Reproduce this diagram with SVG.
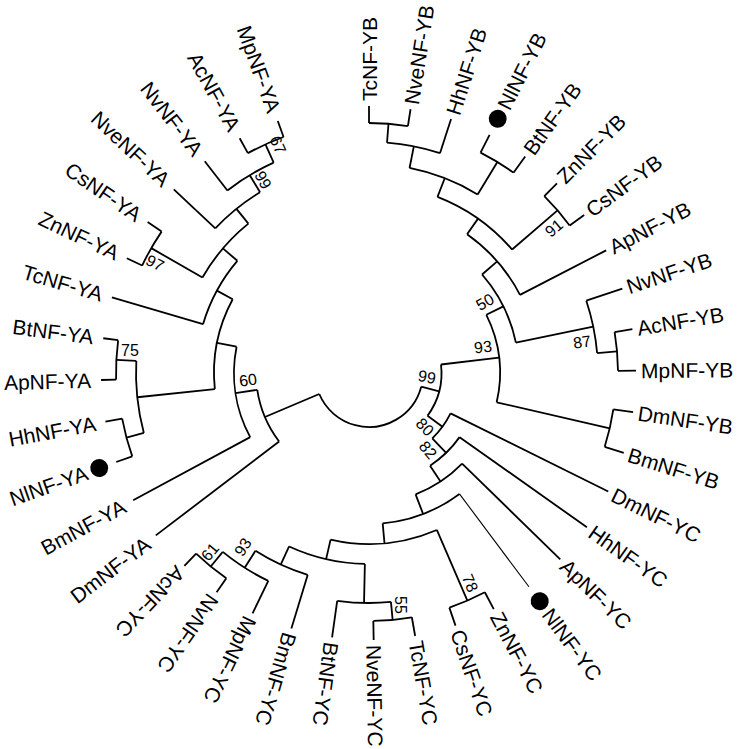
<svg xmlns="http://www.w3.org/2000/svg" width="739" height="749" viewBox="0 0 739 749">
<style>
.b{stroke:#000;stroke-width:1.8;fill:none}
.lf{font-family:"Liberation Sans",Arial,sans-serif;font-size:21px;fill:#000;dominant-baseline:central}
.fl{text-anchor:end}
.bs{font-family:"Liberation Sans",Arial,sans-serif;font-size:16px;fill:#000;text-anchor:middle;dominant-baseline:central}
</style>
<rect width="739" height="749" fill="#fff"/>
<g id="connectors" transform="translate(369,373)" class="b">
<circle r="54" pathLength="360" stroke-dasharray="142.36 400" transform="rotate(14.71)"/>
<circle r="113" pathLength="360" stroke-dasharray="28.74 400" transform="rotate(142.7)"/>
<circle r="135" pathLength="360" stroke-dasharray="39.58 400" transform="rotate(151.65)"/>
<circle r="155" pathLength="360" stroke-dasharray="34.4 400" transform="rotate(174.03)"/>
<circle r="233" pathLength="360" stroke-dasharray="17.9 400" transform="rotate(165.08)"/>
<circle r="251" pathLength="360" stroke-dasharray="8.95 400" transform="rotate(160.6)"/>
<circle r="253" pathLength="360" stroke-dasharray="8.95 400" transform="rotate(178.5)"/>
<circle r="173" pathLength="360" stroke-dasharray="24.05 400" transform="rotate(196.4)"/>
<circle r="192" pathLength="360" stroke-dasharray="21.25 400" transform="rotate(209.83)"/>
<circle r="251" pathLength="360" stroke-dasharray="8.95 400" transform="rotate(205.35)"/>
<circle r="211" pathLength="360" stroke-dasharray="15.66 400" transform="rotate(223.25)"/>
<circle r="231" pathLength="360" stroke-dasharray="13.43 400" transform="rotate(232.2)"/>
<circle r="251" pathLength="360" stroke-dasharray="8.95 400" transform="rotate(241.15)"/>
<circle r="72.5" pathLength="360" stroke-dasharray="42.89 400" transform="rotate(-6.73)"/>
<circle r="131" pathLength="360" stroke-dasharray="39.31 400" transform="rotate(-26.38)"/>
<circle r="150" pathLength="360" stroke-dasharray="29.37 400" transform="rotate(-41.06)"/>
<circle r="170" pathLength="360" stroke-dasharray="27.41 400" transform="rotate(-54.76)"/>
<circle r="189" pathLength="360" stroke-dasharray="27.97 400" transform="rotate(-68.75)"/>
<circle r="209" pathLength="360" stroke-dasharray="20.13 400" transform="rotate(-78.81)"/>
<circle r="231" pathLength="360" stroke-dasharray="13.43 400" transform="rotate(-85.53)"/>
<circle r="250" pathLength="360" stroke-dasharray="8.95 400" transform="rotate(-90)"/>
<circle r="247" pathLength="360" stroke-dasharray="8.95 400" transform="rotate(-63.15)"/>
<circle r="249" pathLength="360" stroke-dasharray="8.95 400" transform="rotate(-45.25)"/>
<circle r="229" pathLength="360" stroke-dasharray="13.42 400" transform="rotate(-18.4)"/>
<circle r="249" pathLength="360" stroke-dasharray="8.95 400" transform="rotate(-9.45)"/>
<circle r="247" pathLength="360" stroke-dasharray="8.95 400" transform="rotate(8.45)"/>
<circle r="91" pathLength="360" stroke-dasharray="19.61 400" transform="rotate(26.35)"/>
<circle r="111" pathLength="360" stroke-dasharray="21.33 400" transform="rotate(35.3)"/>
<circle r="130" pathLength="360" stroke-dasharray="24.75 400" transform="rotate(44.25)"/>
<circle r="151" pathLength="360" stroke-dasharray="31.6 400" transform="rotate(53.2)"/>
<circle r="171" pathLength="360" stroke-dasharray="36.35 400" transform="rotate(66.63)"/>
<circle r="248" pathLength="360" stroke-dasharray="8.95 400" transform="rotate(62.15)"/>
<circle r="191" pathLength="360" stroke-dasharray="23.49 400" transform="rotate(91.24)"/>
<circle r="230" pathLength="360" stroke-dasharray="13.42 400" transform="rotate(84.53)"/>
<circle r="248" pathLength="360" stroke-dasharray="8.95 400" transform="rotate(80.05)"/>
<circle r="211" pathLength="360" stroke-dasharray="15.66 400" transform="rotate(106.9)"/>
<circle r="231" pathLength="360" stroke-dasharray="13.43 400" transform="rotate(115.85)"/>
<circle r="250" pathLength="360" stroke-dasharray="8.95 400" transform="rotate(124.8)"/>
<line x1="54" x2="113" transform="rotate(157.07)"/>
<line x1="54" x2="72.5" transform="rotate(14.71)"/>
<line x1="113" x2="268" transform="rotate(142.7)"/>
<line x1="113" x2="135" transform="rotate(171.44)"/>
<line x1="135" x2="268" transform="rotate(151.65)"/>
<line x1="135" x2="155" transform="rotate(191.23)"/>
<line x1="155" x2="233" transform="rotate(174.03)"/>
<line x1="155" x2="173" transform="rotate(208.43)"/>
<line x1="233" x2="251" transform="rotate(165.08)"/>
<line x1="233" x2="253" transform="rotate(182.98)"/>
<line x1="251" x2="268" transform="rotate(160.6)"/>
<line x1="251" x2="268" transform="rotate(169.55)"/>
<line x1="253" x2="268" transform="rotate(178.5)"/>
<line x1="253" x2="268" transform="rotate(187.45)"/>
<line x1="173" x2="268" transform="rotate(196.4)"/>
<line x1="173" x2="192" transform="rotate(220.45)"/>
<line x1="192" x2="251" transform="rotate(209.83)"/>
<line x1="192" x2="211" transform="rotate(231.08)"/>
<line x1="251" x2="268" transform="rotate(205.35)"/>
<line x1="251" x2="268" transform="rotate(214.3)"/>
<line x1="211" x2="268" transform="rotate(223.25)"/>
<line x1="211" x2="231" transform="rotate(238.91)"/>
<line x1="231" x2="268" transform="rotate(232.2)"/>
<line x1="231" x2="251" transform="rotate(245.63)"/>
<line x1="251" x2="268" transform="rotate(241.15)"/>
<line x1="251" x2="268" transform="rotate(250.1)"/>
<line x1="72.5" x2="131" transform="rotate(-6.73)"/>
<line x1="72.5" x2="91" transform="rotate(36.16)"/>
<line x1="131" x2="150" transform="rotate(-26.38)"/>
<line x1="131" x2="247" transform="rotate(12.93)"/>
<line x1="150" x2="170" transform="rotate(-41.06)"/>
<line x1="150" x2="229" transform="rotate(-11.69)"/>
<line x1="170" x2="189" transform="rotate(-54.76)"/>
<line x1="170" x2="267" transform="rotate(-27.35)"/>
<line x1="189" x2="209" transform="rotate(-68.75)"/>
<line x1="189" x2="249" transform="rotate(-40.78)"/>
<line x1="209" x2="231" transform="rotate(-78.81)"/>
<line x1="209" x2="247" transform="rotate(-58.68)"/>
<line x1="231" x2="250" transform="rotate(-85.53)"/>
<line x1="231" x2="267" transform="rotate(-72.1)"/>
<line x1="250" x2="267" transform="rotate(-90)"/>
<line x1="250" x2="267" transform="rotate(-81.05)"/>
<line x1="247" x2="267" transform="rotate(-63.15)"/>
<line x1="247" x2="267" transform="rotate(-54.2)"/>
<line x1="249" x2="267" transform="rotate(-45.25)"/>
<line x1="249" x2="267" transform="rotate(-36.3)"/>
<line x1="229" x2="267" transform="rotate(-18.4)"/>
<line x1="229" x2="249" transform="rotate(-4.98)"/>
<line x1="249" x2="267" transform="rotate(-9.45)"/>
<line x1="249" x2="267" transform="rotate(-0.5)"/>
<line x1="247" x2="267" transform="rotate(8.45)"/>
<line x1="247" x2="267" transform="rotate(17.4)"/>
<line x1="91" x2="267" transform="rotate(26.35)"/>
<line x1="91" x2="111" transform="rotate(45.96)"/>
<line x1="111" x2="267" transform="rotate(35.3)"/>
<line x1="111" x2="130" transform="rotate(56.63)"/>
<line x1="130" x2="267" transform="rotate(44.25)"/>
<line x1="130" x2="151" transform="rotate(69)"/>
<line x1="151" x2="267" transform="rotate(53.2)" stroke-width="1.1"/>
<line x1="151" x2="171" transform="rotate(84.8)"/>
<line x1="171" x2="248" transform="rotate(66.63)"/>
<line x1="171" x2="191" transform="rotate(102.98)"/>
<line x1="248" x2="267" transform="rotate(62.15)"/>
<line x1="248" x2="267" transform="rotate(71.1)"/>
<line x1="191" x2="230" transform="rotate(91.24)"/>
<line x1="191" x2="211" transform="rotate(114.73)"/>
<line x1="230" x2="248" transform="rotate(84.53)"/>
<line x1="230" x2="267" transform="rotate(97.95)"/>
<line x1="248" x2="267" transform="rotate(80.05)"/>
<line x1="248" x2="267" transform="rotate(89)"/>
<line x1="211" x2="267" transform="rotate(106.9)"/>
<line x1="211" x2="231" transform="rotate(122.56)"/>
<line x1="231" x2="267" transform="rotate(115.85)"/>
<line x1="231" x2="250" transform="rotate(129.28)"/>
<line x1="250" x2="267" transform="rotate(124.8)"/>
<line x1="250" x2="267" transform="rotate(133.75)"/>
</g>
<g id="leaves" transform="translate(369,373)">
<g id="TcNF-YB"><text class="lf" x="272" transform="rotate(-90)">TcNF-YB</text></g>
<g id="NveNF-YB"><text class="lf" x="272" transform="rotate(-81.05)">NveNF-YB</text></g>
<g id="HhNF-YB"><text class="lf" x="272" transform="rotate(-72.1)">HhNF-YB</text></g>
<g id="NlNF-YB"><circle cx="285" r="9" transform="rotate(-63.15)"/><text class="lf" x="297" transform="rotate(-63.15)">NlNF-YB</text></g>
<g id="BtNF-YB"><text class="lf" x="272" transform="rotate(-54.2)">BtNF-YB</text></g>
<g id="ZnNF-YB"><text class="lf" x="272" transform="rotate(-45.25)">ZnNF-YB</text></g>
<g id="CsNF-YB"><text class="lf" x="272" transform="rotate(-36.3)">CsNF-YB</text></g>
<g id="ApNF-YB"><text class="lf" x="272" transform="rotate(-27.35)">ApNF-YB</text></g>
<g id="NvNF-YB"><text class="lf" x="272" transform="rotate(-18.4)">NvNF-YB</text></g>
<g id="AcNF-YB"><text class="lf" x="272" transform="rotate(-9.45)">AcNF-YB</text></g>
<g id="MpNF-YB"><text class="lf" x="272" transform="rotate(-0.5)">MpNF-YB</text></g>
<g id="DmNF-YB"><text class="lf" x="272" transform="rotate(8.45)">DmNF-YB</text></g>
<g id="BmNF-YB"><text class="lf" x="272" transform="rotate(17.4)">BmNF-YB</text></g>
<g id="DmNF-YC"><text class="lf" x="272" transform="rotate(26.35)">DmNF-YC</text></g>
<g id="HhNF-YC"><text class="lf" x="272" transform="rotate(35.3)">HhNF-YC</text></g>
<g id="ApNF-YC"><text class="lf" x="272" transform="rotate(44.25)">ApNF-YC</text></g>
<g id="NlNF-YC"><circle cx="285" r="9" transform="rotate(53.2)"/><text class="lf" x="297" transform="rotate(53.2)">NlNF-YC</text></g>
<g id="ZnNF-YC"><text class="lf" x="272" transform="rotate(62.15)">ZnNF-YC</text></g>
<g id="CsNF-YC"><text class="lf" x="272" transform="rotate(71.1)">CsNF-YC</text></g>
<g id="TcNF-YC"><text class="lf" x="272" transform="rotate(80.05)">TcNF-YC</text></g>
<g id="NveNF-YC"><text class="lf" x="272" transform="rotate(89)">NveNF-YC</text></g>
<g id="BtNF-YC"><text class="lf" x="272" transform="rotate(97.95)">BtNF-YC</text></g>
<g id="BmNF-YC"><text class="lf" x="272" transform="rotate(106.9)">BmNF-YC</text></g>
<g id="MpNF-YC"><text class="lf" x="272" transform="rotate(115.85)">MpNF-YC</text></g>
<g id="NvNF-YC"><text class="lf" x="272" transform="rotate(124.8)">NvNF-YC</text></g>
<g id="AcNF-YC"><text class="lf" x="272" transform="rotate(133.75)">AcNF-YC</text></g>
<g id="DmNF-YA"><text class="lf fl" x="-278" transform="rotate(-37.3)">DmNF-YA</text></g>
<g id="BmNF-YA"><text class="lf fl" x="-278" transform="rotate(-28.35)">BmNF-YA</text></g>
<g id="NlNF-YA"><circle cx="286" r="9" transform="rotate(160.6)"/><text class="lf fl" x="-299" transform="rotate(-19.4)">NlNF-YA</text></g>
<g id="HhNF-YA"><text class="lf fl" x="-278" transform="rotate(-10.45)">HhNF-YA</text></g>
<g id="ApNF-YA"><text class="lf fl" x="-278" transform="rotate(-1.5)">ApNF-YA</text></g>
<g id="BtNF-YA"><text class="lf fl" x="-278" transform="rotate(7.45)">BtNF-YA</text></g>
<g id="TcNF-YA"><text class="lf fl" x="-278" transform="rotate(16.4)">TcNF-YA</text></g>
<g id="ZnNF-YA"><text class="lf fl" x="-278" transform="rotate(25.35)">ZnNF-YA</text></g>
<g id="CsNF-YA"><text class="lf fl" x="-278" transform="rotate(34.3)">CsNF-YA</text></g>
<g id="NveNF-YA"><text class="lf fl" x="-278" transform="rotate(43.25)">NveNF-YA</text></g>
<g id="NvNF-YA"><text class="lf fl" x="-278" transform="rotate(52.2)">NvNF-YA</text></g>
<g id="AcNF-YA"><text class="lf fl" x="-278" transform="rotate(61.15)">AcNF-YA</text></g>
<g id="MpNF-YA"><text class="lf fl" x="-278" transform="rotate(70.1)">MpNF-YA</text></g>
</g>
<g id="bootstrap">
<g id="bs-node99"><text class="bs" x="427" y="377" transform="rotate(10 427 377)">99</text></g>
<g id="bs-node93b"><text class="bs" x="483" y="347" transform="rotate(-7 483 347)">93</text></g>
<g id="bs-node50"><text class="bs" x="485" y="302" transform="rotate(-30 485 302)">50</text></g>
<g id="bs-node87"><text class="bs" x="582" y="342" transform="rotate(-8 582 342)">87</text></g>
<g id="bs-node91"><text class="bs" x="554" y="228" transform="rotate(-40 554 228)">91</text></g>
<g id="bs-node80"><text class="bs" x="425" y="427" transform="rotate(45 425 427)">80</text></g>
<g id="bs-node82"><text class="bs" x="428" y="450" transform="rotate(50 428 450)">82</text></g>
<g id="bs-node78"><text class="bs" x="470" y="583" transform="rotate(67 470 583)">78</text></g>
<g id="bs-node55"><text class="bs" x="400" y="605" transform="rotate(90 400 605)">55</text></g>
<g id="bs-node93c"><text class="bs" x="243" y="547" transform="rotate(-57 243 547)">93</text></g>
<g id="bs-node61"><text class="bs" x="210" y="552" transform="rotate(-50 210 552)">61</text></g>
<g id="bs-node60"><text class="bs" x="248" y="380" transform="rotate(-8 248 380)">60</text></g>
<g id="bs-node75"><text class="bs" x="130" y="350">75</text></g>
<g id="bs-node97"><text class="bs" x="155" y="263" transform="rotate(28 155 263)">97</text></g>
<g id="bs-node99a"><text class="bs" x="263" y="180" transform="rotate(62 263 180)">99</text></g>
<g id="bs-node67"><text class="bs" x="278" y="145" transform="rotate(66 278 145)">67</text></g>
</g>
</svg>
